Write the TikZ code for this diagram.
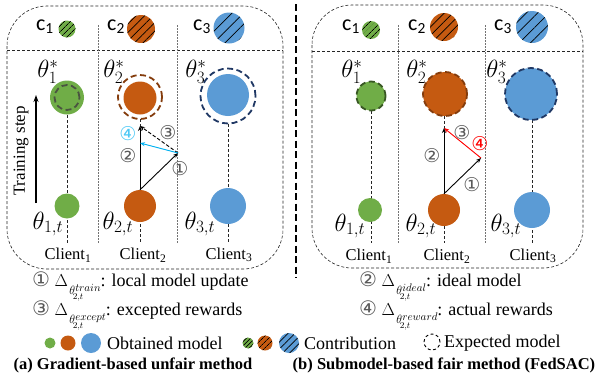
\documentclass[tikz,border=0pt]{standalone}
\usepackage{fontspec}
\setmainfont{Liberation Serif}
\newfontfamily\cfont{Carlito}
\newfontfamily\dvs{DejaVu Sans}
\usetikzlibrary{arrows.meta,patterns.meta}
\definecolor{cgreen}{HTML}{70AD47}
\definecolor{corange}{HTML}{C55A11}
\definecolor{cblue}{HTML}{5B9BD5}
\definecolor{dgray}{HTML}{4A5440}
\definecolor{dgreen}{HTML}{385723}
\definecolor{dbrown}{HTML}{843C0C}
\definecolor{dnavy}{HTML}{203864}
\definecolor{cyanb}{HTML}{00B0F0}
\definecolor{numgray}{HTML}{595959}
\newcommand{\cnum}[1]{{\dvs\fontsize{20}{20}\selectfont\color{numgray}#1}}
\newcommand{\dlt}[1]{{\fontsize{16}{16}\selectfont$\Delta$}\kern1.5pt\smash{\raisebox{-8.5pt}{\fontsize{13}{13}\selectfont$\theta$}}\kern-2.5pt\smash{\makebox[0pt][l]{\raisebox{-13.5pt}{\fontsize{9.5}{9.5}\selectfont$2{,}t$}}}\kern2.5pt\smash{\raisebox{-5pt}{\fontsize{10.5}{10.5}\selectfont$#1$}}}
\begin{document}
\begin{tikzpicture}[x=1pt,y=-1pt,
  ball/.style={circle, fill=#1, draw=none, inner sep=0pt},
  hatch/.style={postaction={pattern={Lines[angle=45,distance=#1,line width=0.7pt]}, pattern color=black}},
  expring/.style={circle, draw=#1, line width=1.8pt, dash pattern=on 6pt off 3.5pt, inner sep=0pt},
  panel/.style={draw=black!85, line width=0.6pt, dash pattern=on 3pt off 2pt, rounded corners=40pt},
  sepline/.style={draw=black!85, line width=0.6pt, dash pattern=on 3pt off 2pt},
  colsep/.style={draw=black!55, line width=0.7pt, dash pattern=on 1.5pt off 1.5pt},
  cline/.style={draw=black!85, line width=0.6pt, dash pattern=on 3pt off 2pt},
  arr/.style={-{Stealth[length=5pt,width=4pt]}, line width=0.9pt},
  numlab/.style={font=\dvs\fontsize{19}{19}\selectfont, text=numgray, inner sep=0pt},
  clab/.style={font=\cfont\fontsize{22}{22}\selectfont, inner sep=0pt},
  thlab/.style={font=\fontsize{23}{25}\selectfont, inner sep=0pt},
  client/.style={font=\fontsize{16.5}{18}\selectfont, inner sep=0pt},
  txt/.style={font=\fontsize{18}{20}\selectfont, inner sep=0pt},
  captxt/.style={font=\bfseries\fontsize{16.5}{18}\selectfont, inner sep=0pt}
]
\useasboundingbox (0,0) rectangle (597,381);

% ---------------- panel (a) ----------------
\draw[panel] (7,6) rectangle (283,269);
\draw[sepline] (7,50) -- (283,50);
\draw[colsep] (98,25) -- (98,243);
\draw[colsep] (177,25) -- (177,243);
\draw[cline] (67,115) -- (67,243);
\draw[cline] (140,119) -- (140,243);
\draw[cline] (228,124) -- (228,243);

\node[clab] (ac1) at (45,27) {c\textsubscript{1}};
\node[ball=cgreen, hatch=4pt, minimum size=17pt] (ah1) at (67,29) {};
\node[clab] (ac2) at (116,27) {c\textsubscript{2}};
\node[ball=corange, hatch=6pt, minimum size=28pt] (ah2) at (141,29) {};
\node[clab] (ac3) at (202,27) {c\textsubscript{3}};
\node[ball=cblue, hatch=8pt, minimum size=31pt] (ah3) at (229,28) {};

\node[thlab] (ath1) at (48,72) {$\theta^*_1$};
\node[thlab] (ath2) at (114,72) {$\theta^*_2$};
\node[thlab] (ath3) at (196,72) {$\theta^*_3$};

\node[ball=cgreen, minimum size=34pt] (at1) at (67,97.5) {};
\node[expring=dgray, minimum size=25pt] (ae1) at (67,97.5) {};
\node[ball=corange, minimum size=33pt] (at2) at (140,98) {};
\node[expring=dbrown, minimum size=44pt] (ae2) at (140,97) {};
\node[ball=cblue, minimum size=42pt] (at3) at (228,95) {};
\node[expring=dnavy, minimum size=55pt] (ae3) at (228,96) {};

\node[ball=cgreen, minimum size=25pt] (ab1) at (67,206) {};
\node[ball=corange, minimum size=32pt] (ab2) at (140,206) {};
\node[ball=cblue, minimum size=36pt] (ab3) at (228,206) {};

\node[thlab] (atb1) at (48,224) {$\theta_{1,t}$};
\node[thlab] (atb2) at (118,224) {$\theta_{2,t}$};
\node[thlab] (atb3) at (200,224) {$\theta_{3,t}$};

\node[client] (acl1) at (68,255) {Client\textsubscript{1}};
\node[client] (acl2) at (143,255) {Client\textsubscript{2}};
\node[client] (acl3) at (229,255) {Client\textsubscript{3}};

\coordinate (aup0) at (36,203);
\coordinate (aup1) at (36,95);
\draw[-{Stealth[length=7pt,width=5pt]}, line width=1.4pt] (aup0) -- (aup1);
\node[txt, rotate=90, font=\fontsize{17}{20}\selectfont] (atrain) at (21,151) {Training step};

\coordinate (ae1p) at (178,153);
\coordinate (ae2p) at (140,126);
\coordinate (ae4p) at (140,143);
\draw[arr] (ab2.north) -- (ae1p);
\draw[arr] (ab2.north) -- (ae2p);
\draw[arr, dash pattern=on 3.5pt off 2pt] (ae1p) -- (ae2p);
\draw[arr, draw=cyanb, fill=cyanb] (ae1p) -- (ae4p);
\node[numlab, text=cyanb!70] (an4) at (128,134) {④};
\node[numlab] (an3) at (168,133) {③};
\node[numlab] (an2) at (128,156) {②};
\node[numlab] (an1) at (180,169) {①};

% ---------------- divider ----------------
\draw[line width=1.2pt, dash pattern=on 7pt off 3.5pt] (296,4) -- (296,278);

% ---------------- panel (b) ----------------
\draw[panel] (312,5) rectangle (583,268);
\draw[sepline] (312,51.5) -- (583,51.5);
\draw[colsep] (398,25) -- (398,243);
\draw[colsep] (485,25) -- (485,243);
\draw[cline] (371,111) -- (371,243);
\draw[cline] (444,116) -- (444,243);
\draw[cline] (532,120) -- (532,243);

\node[clab] (bc1) at (351,27) {c\textsubscript{1}};
\node[ball=cgreen, hatch=4pt, minimum size=18pt] (bh1) at (371,30) {};
\node[clab] (bc2) at (417,27) {c\textsubscript{2}};
\node[ball=corange, hatch=6pt, minimum size=28pt] (bh2) at (444,27) {};
\node[clab] (bc3) at (503,27) {c\textsubscript{3}};
\node[ball=cblue, hatch=8pt, minimum size=32pt] (bh3) at (532,27) {};

\node[thlab] (bth1) at (352,72) {$\theta^*_1$};
\node[thlab] (bth2) at (417,72) {$\theta^*_2$};
\node[thlab] (bth3) at (497,72) {$\theta^*_3$};

\node[ball=cgreen, expring=dgreen, minimum size=29pt] (bt1) at (371,96) {};
\node[ball=corange, expring=dbrown, minimum size=44pt] (bt2) at (445,94) {};
\node[ball=cblue, expring=dnavy, minimum size=52pt] (bt3) at (531,94) {};

\node[ball=cgreen, minimum size=24pt] (bb1) at (370,210) {};
\node[ball=corange, minimum size=32pt] (bb2) at (444,210) {};
\node[ball=cblue, minimum size=36pt] (bb3) at (532,210) {};

\node[thlab] (btb1) at (350,226) {$\theta_{1,t}$};
\node[thlab] (btb2) at (421,226) {$\theta_{2,t}$};
\node[thlab] (btb3) at (506,226) {$\theta_{3,t}$};

\node[client] (bcl1) at (369,256) {Client\textsubscript{1}};
\node[client] (bcl2) at (447,256) {Client\textsubscript{2}};
\node[client] (bcl3) at (533,256) {Client\textsubscript{3}};

\coordinate (be1p) at (481,158);
\coordinate (be2p) at (444,128);
\draw[arr, draw=red, fill=red] (be1p) -- (be2p);
\draw[arr] (bb2.north) -- (be1p);
\draw[arr] (bb2.north) -- (be2p);
\node[numlab] (bn3) at (462,133) {③};
\node[numlab, text=red] (bn4) at (480,144) {④};
\node[numlab] (bn2) at (432,156) {②};
\node[numlab] (bn1) at (472,185) {①};

% ---------------- legend ----------------
\node[txt, anchor=base west] (l1) at (32,286) {\cnum{①} \dlt{train}: local model update};
\node[txt, anchor=base west] (l3) at (32,315) {\cnum{③} \dlt{except}: excepted rewards};
\node[txt, anchor=base west] (l2) at (359,286) {\cnum{②} \dlt{ideal}: ideal model};
\node[txt, anchor=base west] (l4) at (359,315) {\cnum{④} \dlt{reward}: actual rewards};

\node[ball=cgreen, minimum size=11pt] (lg1) at (50,343) {};
\node[ball=corange, minimum size=15pt] (lg2) at (68,343) {};
\node[ball=cblue, minimum size=20pt] (lg3) at (91,343) {};
\node[txt, anchor=west] (lgt1) at (107,343) {Obtained model};
\node[ball=cgreen, hatch=3pt, minimum size=11pt] (lh1) at (248,343) {};
\node[ball=corange, hatch=4pt, minimum size=15pt] (lh2) at (265,343) {};
\node[ball=cblue, hatch=5pt, minimum size=20pt] (lh3) at (289,343) {};
\node[txt, anchor=west] (lgt2) at (304,343) {Contribution};
\node[circle, draw, line width=0.9pt, dash pattern=on 3pt off 2.5pt, minimum size=16pt, inner sep=0pt] (lx) at (432,342) {};
\node[txt, anchor=west] (lgt3) at (444,343) {Expected model};

\node[captxt] (capa) at (133,365) {(a) Gradient-based unfair method};
\node[captxt] (capb) at (444,365) {(b) Submodel-based fair method (FedSAC)};
\end{tikzpicture}
\end{document}
